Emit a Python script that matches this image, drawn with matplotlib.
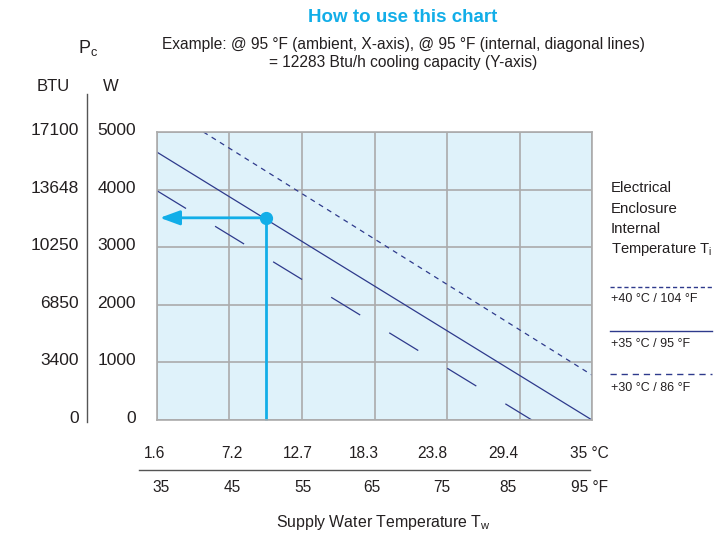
import matplotlib
matplotlib.use("Agg")
import matplotlib.pyplot as plt
from matplotlib import transforms

plt.rcParams['font.family'] = ['Liberation Sans', 'DejaVu Sans']
plt.rcParams['mathtext.fontset'] = 'custom'
plt.rcParams['mathtext.rm'] = 'Liberation Sans'
plt.rcParams['lines.scale_dashes'] = False

# ---------------- data ----------------
f_ticks = [35, 45, 55, 65, 75, 85, 95]
f_labels = ["35", "45", "55", "65", "75", "85", "95 °F"]
c_labels = ["1.6", "7.2", "12.7", "18.3", "23.8", "29.4", "35 °C"]
w_ticks = [0, 1000, 2000, 3000, 4000, 5000]
w_labels = ["0", "1000", "2000", "3000", "4000", "5000"]
btu_labels = ["0", "3400", "6850", "10250", "13648", "17100"]

t40_x = [41.4, 95]
t40_w = [5000, 780]
t35_x = [35, 95]
t35_w = [4650, 0]
t30_x = [35, 86.7]
t30_w = [3980, 0]

example_x = 50
example_w = 3510

legend_labels = ["+40 °C / 104 °F", "+35 °C / 95 °F", "+30 °C / 86 °F"]

# ---------------- style ----------------
W, H = 719, 533
navy = "#2e3a8c"
cyan = "#12aee8"
grid_c = "#ababab"
bg = "#dff2fa"
text_c = "#231f20"

fig = plt.figure(figsize=(W / 100, H / 100), dpi=100)
ax = fig.add_axes([157 / W, 1 - 420 / H, (592 - 157) / W, (420 - 132) / H])
ax.set_facecolor(bg)
ax.set_xlim(35, 95)
ax.set_ylim(0, 5000)
ax.set_xticks(f_ticks)
ax.set_yticks(w_ticks)
ax.tick_params(length=0, labelbottom=False, labelleft=False)
ax.grid(True, color=grid_c, lw=1.2)
for s in ax.spines.values():
    s.set_color(grid_c)
    s.set_linewidth(1.2)

ax.plot(t40_x, t40_w, color=navy, lw=0.9, dashes=(3.6, 3.4), dash_capstyle='butt')
ax.plot(t35_x, t35_w, color=navy, lw=0.9)
ax.plot(t30_x, t30_w, color=navy, lw=0.9, dashes=(24.5, 24.5), dash_capstyle='butt')

# example path
ax.plot([example_x, example_x], [0, example_w], color=cyan, lw=2.0, solid_capstyle='butt', clip_on=False)
ax.annotate('', xy=(35.4, example_w), xytext=(example_x, example_w),
            arrowprops=dict(arrowstyle='-|>,head_length=0.6,head_width=0.22',
                            color=cyan, lw=2.0, mutation_scale=20, shrinkA=0, shrinkB=0))
ax.plot([example_x], [example_w], 'o', color=cyan, ms=8.5, zorder=5)

# y labels (W and BTU), drawn slightly above each grid line
tr_y = transforms.blended_transform_factory(fig.transFigure, ax.transData)
lift = transforms.ScaledTranslation(0, 1.5 / 100, fig.dpi_scale_trans)
for v, wl, bl in zip(w_ticks, w_labels, btu_labels):
    ax.text(136 / W, v, wl, transform=tr_y + lift, ha='right', va='center', fontsize=12.5, color=text_c)
    ax.text(79 / W, v, bl, transform=tr_y + lift, ha='right', va='center', fontsize=12.5, color=text_c)
fig.add_artist(plt.Line2D([87 / W, 87 / W], [1 - 94 / H, 1 - 422 / H], color="#555555", lw=1.0))
fig.text(53 / W, 1 - 87 / H, "BTU", ha='center', va='center', fontsize=12, color=text_c)
fig.text(111 / W, 1 - 87 / H, "W", ha='center', va='center', fontsize=12, color=text_c)
fig.text(88 / W, 1 - 48 / H, r"$\mathregular{P_c}$", ha='center', va='center', fontsize=13, color=text_c)

# x labels
tr_x = transforms.blended_transform_factory(ax.transData, fig.transFigure)
c_off = [-0.4, 0.3, -0.6, -1.4, -2.0, -2.3, -0.3]
f_off = [0.5, 0.4, 0.1, -0.4, -0.7, -1.6, -0.3]
for v, cl, fl, co, fo in zip(f_ticks, c_labels, f_labels, c_off, f_off):
    ax.text(v + co, 1 - 453 / H, cl, transform=tr_x, ha='center', va='center', fontsize=11.2, color=text_c)
    ax.text(v + fo, 1 - 487 / H, fl, transform=tr_x, ha='center', va='center', fontsize=11.2, color=text_c)
fig.add_artist(plt.Line2D([139 / W, 590 / W], [1 - 470 / H, 1 - 470 / H], color="#555555", lw=1.0))
fig.text(383 / W, 1 - 522 / H, r"Supply Water Temperature $\mathregular{T_w}$", ha='center', va='center',
         fontsize=11.4, color=text_c)

# header
fig.text(403 / W, 1 - 17 / H, "How to use this chart", ha='center', va='center', fontsize=13.5,
         fontweight='bold', color=cyan)
fig.text(403 / W, 1 - 44 / H, "Example: @ 95 °F (ambient, X-axis), @ 95 °F (internal, diagonal lines)",
         ha='center', va='center', fontsize=11.2, color=text_c)
fig.text(403 / W, 1 - 62 / H, "= 12283 Btu/h cooling capacity (Y-axis)",
         ha='center', va='center', fontsize=11.2, color=text_c)

# legend
for i, t in enumerate(["Electrical", "Enclosure", "Internal"]):
    fig.text(611 / W, 1 - (188 + 20.7 * i) / H, t, ha='left', va='center', fontsize=10.8, color=text_c)
fig.text(611 / W, 1 - 250 / H, r"Temperature $\mathregular{T_i}$", ha='left', va='center', fontsize=10.6,
         color=text_c)

leg_y = [287, 331, 374]
leg_t = [299, 344, 388]
leg_dash = [(3.0, 2.0), None, (4.5, 3.5)]
for yl, yt, lab, d in zip(leg_y, leg_t, legend_labels, leg_dash):
    ln = plt.Line2D([610 / W, 712 / W], [1 - yl / H, 1 - yl / H], color=navy, lw=1.0)
    if d is not None:
        ln.set_dashes(d)
    fig.add_artist(ln)
    fig.text(611 / W, 1 - yt / H, lab, ha='left', va='center', fontsize=9, color=text_c)

fig.savefig("out.png", dpi=100, facecolor='white')
